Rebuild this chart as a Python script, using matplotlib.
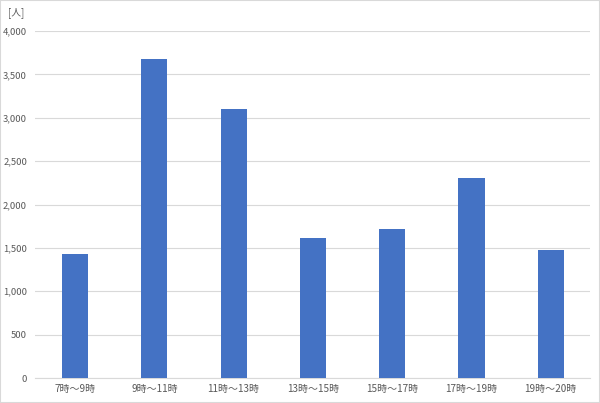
import matplotlib
matplotlib.use("Agg")
import matplotlib.pyplot as plt
from matplotlib.ticker import FuncFormatter, MultipleLocator
from matplotlib.patches import Rectangle

plt.rcParams['font.family'] = ['Noto Sans CJK JP', 'DejaVu Sans']

categories = ["7時～9時", "9時～11時", "11時～13時", "13時～15時", "15時～17時", "17時～19時", "19時～20時"]
values = [1430, 3680, 3100, 1615, 1715, 2300, 1475]

fig = plt.figure(figsize=(6.0, 4.03), dpi=100)
ax = fig.add_axes([0.059, 0.062, 0.925, 0.861])

x = range(len(categories))
ax.bar(x, values, width=0.33, color="#4472C4", zorder=3)
ax.set_xlim(-0.5, len(categories) - 0.5)
ax.set_ylim(0, 4000)
ax.yaxis.set_major_locator(MultipleLocator(500))
ax.yaxis.set_major_formatter(FuncFormatter(lambda v, p: f"{int(v):,}"))
ax.set_xticks(list(x))
ax.set_xticklabels(categories)
ax.grid(axis="y", color="#d9d9d9", linewidth=0.8, zorder=0)
for s in ["top", "right", "left"]:
    ax.spines[s].set_visible(False)
ax.spines["bottom"].set_color("#d9d9d9")
ax.tick_params(axis="both", length=0, labelsize=6.8, colors="#595959")
ax.tick_params(axis="x", pad=4, labelsize=7.2)
ax.tick_params(axis="y", pad=6)

fig.text(0.013, 0.968, "[人]", fontsize=7, color="#595959", ha="left", va="center")
fig.patches.append(Rectangle((0, 0), 1, 1, transform=fig.transFigure, fill=False,
                             edgecolor="#d9d9d9", linewidth=1.5))

fig.savefig("out.png", dpi=100)
